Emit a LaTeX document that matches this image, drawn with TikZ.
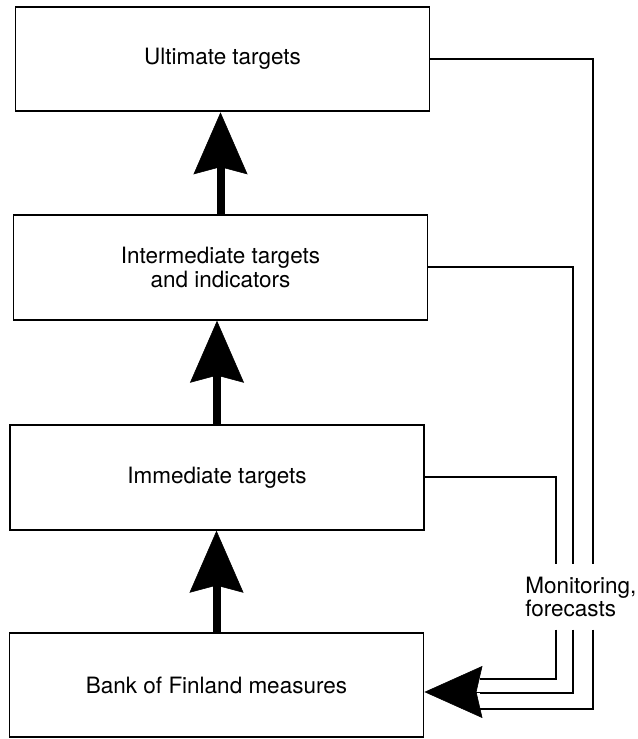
\documentclass[tikz,border=0pt]{standalone}
\usepackage{fontspec}
\setmainfont{TeX Gyre Heros}
\usetikzlibrary{arrows.meta}

\begin{document}
\begin{tikzpicture}[font=\fontsize{16}{17}\selectfont,
 box/.style={draw,line width=1.3pt,inner sep=0pt,align=center,minimum width=10.35cm,minimum height=2.62cm},
 uparr/.style={-{Stealth[length=1.55cm,width=1.35cm,inset=.18cm,line width=.4pt]},line width=.2cm},
 fb/.style={line width=1.3pt},
 fbhead/.style={-{Stealth[length=1.45cm,width=1.3cm,inset=.15cm,line width=.4pt]},line width=.4pt}]
\useasboundingbox (0,0) rectangle (15.925,18.475);
\node[box] (ult) at (5.5625,17.0) {Ultimate targets};
\node[box] (inter) at (5.5125,11.79) {Intermediate targets\\and indicators};
\node[box] (immed) at (5.425,6.54) {Immediate targets};
\node[box] (bof) at (5.4125,1.35) {Bank of Finland measures};
\draw[uparr] (inter.north) -- (inter.north |- ult.south);
\draw[uparr] (immed.north) -- (immed.north |- inter.south);
\draw[uparr] (bof.north) -- (bof.north |- immed.south);

\node[align=left,anchor=west,inner xsep=0pt,inner ysep=.3cm] (mon) at (13.125,3.55) {Monitoring,\\forecasts};
\coordinate (x1) at (14.825,0);
\coordinate (x2) at (14.325,0);
\coordinate (x3) at (13.9,0);
\coordinate (e1) at (12.0,.75);
\coordinate (e2) at (12.0,1.15);
\coordinate (e3) at (12.0,1.5);
\coordinate (fbin) at (12.05,1.175);
\draw[fb] (ult.east) -| (x1 |- mon.north);
\draw[fb] (inter.east) -| (x2 |- mon.north);
\draw[fb] (immed.east) -| (x3 |- mon.north);
\draw[fb] (x1 |- mon.south) |- (e1);
\draw[fb] (x2 |- mon.south) |- (e2);
\draw[fb] (x3 |- mon.south) |- (e3);
\draw[fbhead] (fbin) -- (bof.east |- fbin);
\end{tikzpicture}
\end{document}
